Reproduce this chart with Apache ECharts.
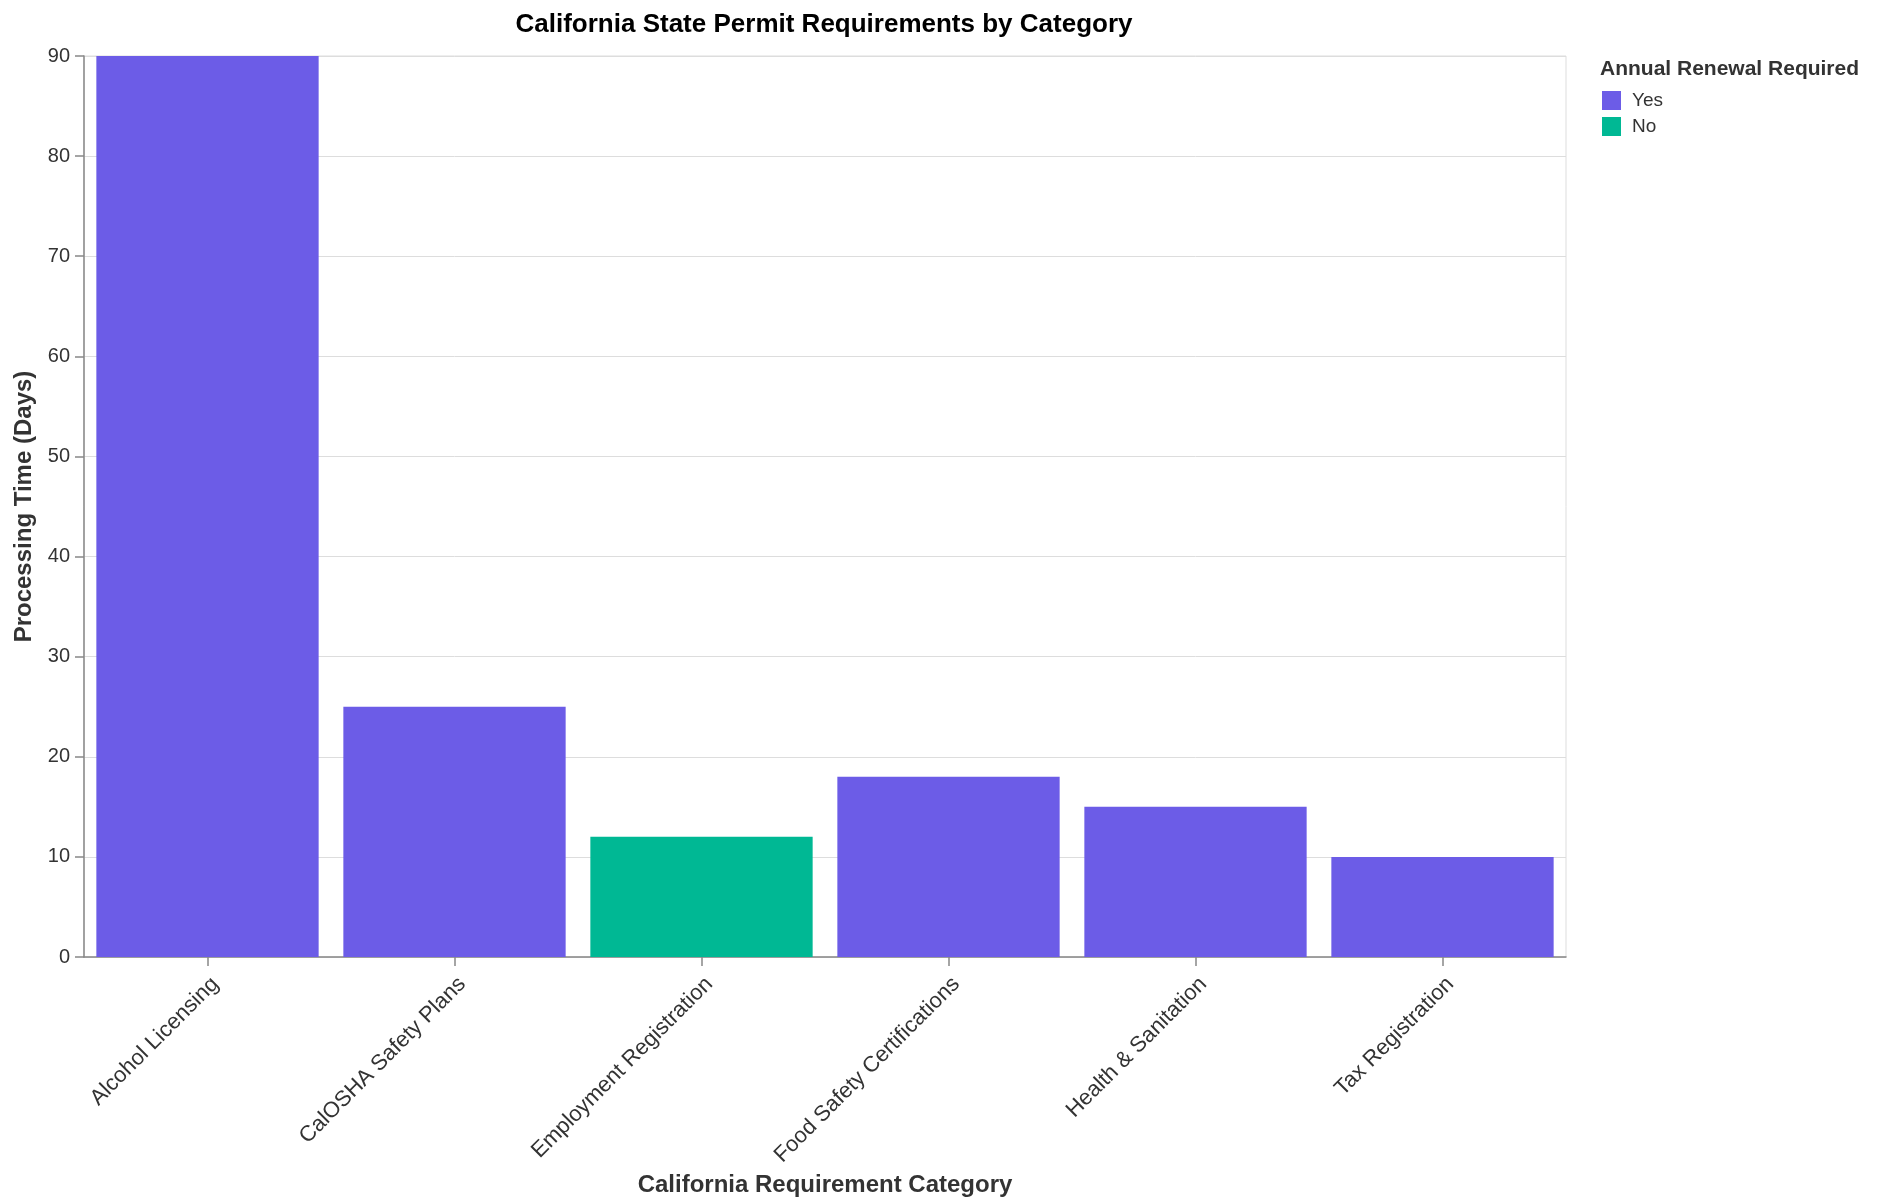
<!DOCTYPE html>
<html>
<head>
<meta charset="utf-8">
<script src="https://cdn.jsdelivr.net/npm/echarts@6/dist/echarts.min.js"></script>
<style>
  html, body { margin: 0; padding: 0; background: #fff; }
  #chart { width: 1882px; height: 1204px; }
</style>
</head>
<body>
<div id="chart"></div>
<script>
// 数据
const categories = ['Alcohol Licensing', 'CalOSHA Safety Plans', 'Employment Registration',
    'Food Safety Certifications', 'Health & Sanitation', 'Tax Registration'];
const processingDays = [90, 25, 12, 18, 15, 10];
const annualRenewal = ['Yes', 'Yes', 'No', 'Yes', 'Yes', 'Yes'];
const yTicks = [0, 10, 20, 30, 40, 50, 60, 70, 80, 90];

// 颜色
const colors = { Yes: '#6c5ce7', No: '#00b894' };
const font = 'Liberation Sans, Arial, Helvetica, sans-serif';

const chart = echarts.init(document.getElementById('chart'));

// 按是否年审拆成两个系列 (用于图例着色)
function seriesFor(key) {
    return processingDays.map(function(d, i) { return annualRenewal[i] === key ? d : '-'; });
}

const option = {
    animation: false,
    textStyle: { fontFamily: font },
    title: [
        {
            text: 'California State Permit Requirements by Category',
            left: 819, top: 7, textAlign: 'center',
            textStyle: { fontFamily: font, fontSize: 26, fontWeight: 'bold', color: '#000' }
        },
        {
            text: 'Annual Renewal Required',
            left: 1595, top: 54,
            textStyle: { fontFamily: font, fontSize: 21, fontWeight: 'bold', color: '#333' }
        }
    ],
    legend: {
        data: ['Yes', 'No'],
        orient: 'vertical',
        left: 1597, top: 86,
        icon: 'rect',
        itemWidth: 19, itemHeight: 19, itemGap: 7,
        textStyle: { fontFamily: font, fontSize: 19, color: '#333', padding: [0, 0, 0, 6] }
    },
    grid: { left: 84, top: 56, width: 1482, height: 901, show: true, borderColor: '#ddd', borderWidth: 1 },
    xAxis: {
        type: 'category', data: categories,
        axisLine: { show: true, lineStyle: { color: '#888', width: 1.5 } },
        axisTick: { show: true, alignWithLabel: true, length: 9, lineStyle: { color: '#888', width: 1.5 } },
        axisLabel: { rotate: 45, fontSize: 22, color: '#333', margin: 16, verticalAlign: 'top', fontFamily: font, interval: 0 },
        name: 'California Requirement Category', nameLocation: 'middle', nameGap: 211,
        nameTextStyle: { fontFamily: font, fontSize: 24, fontWeight: 'bold', color: '#333' }
    },
    yAxis: {
        type: 'value', min: yTicks[0], max: yTicks[yTicks.length - 1], interval: 10,
        axisLine: { show: true, lineStyle: { color: '#888', width: 1.5 } },
        axisTick: { show: true, length: 9, lineStyle: { color: '#888', width: 1.5 } },
        axisLabel: { fontSize: 20, color: '#333', margin: 14, fontFamily: font },
        splitLine: { show: true, lineStyle: { color: '#ddd', width: 1 } },
        name: 'Processing Time (Days)', nameLocation: 'middle', nameGap: 48,
        nameTextStyle: { fontFamily: font, fontSize: 24, fontWeight: 'bold', color: '#333' }
    },
    series: [
        {
            name: 'Yes', type: 'bar', stack: 'renewal',
            barCategoryGap: '10%', itemStyle: { color: colors.Yes }, data: seriesFor('Yes')
        },
        {
            name: 'No', type: 'bar', stack: 'renewal',
            barCategoryGap: '10%', itemStyle: { color: colors.No }, data: seriesFor('No')
        }
    ]
};

chart.setOption(option);
</script>
</body>
</html>
